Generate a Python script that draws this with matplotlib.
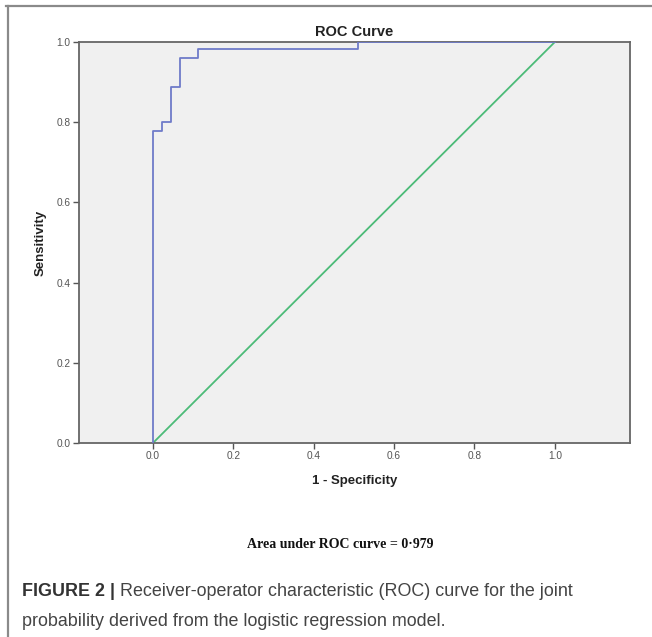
import matplotlib
matplotlib.use("Agg")
import matplotlib.pyplot as plt
from matplotlib.lines import Line2D

# Data
fpr = [0.0, 0.0, 0.022, 0.022, 0.044, 0.044, 0.067, 0.067, 0.111, 0.111, 0.511, 0.511, 1.0]
tpr = [0.0, 0.778, 0.778, 0.800, 0.800, 0.889, 0.889, 0.960, 0.960, 0.982, 0.982, 1.0, 1.0]
ref_x = [0.0, 1.0]
ref_y = [0.0, 1.0]
xticks = [0.0, 0.2, 0.4, 0.6, 0.8, 1.0]
yticks = [0.0, 0.2, 0.4, 0.6, 0.8, 1.0]

W, H = 652, 637
fig = plt.figure(figsize=(W / 100, H / 100), dpi=100)
fig.patch.set_facecolor("white")

ax = fig.add_axes([79 / W, 1 - 443 / H, 551 / W, 401 / H])
ax.set_facecolor("#f0f0f0")
ax.plot(fpr, tpr, color="#6f7bc9", lw=1.3, zorder=3)
ax.plot(ref_x, ref_y, color="#4cbb78", lw=1.3, zorder=2)
ax.set_xlim(-0.184, 1.187)
ax.set_ylim(0, 1.0)
ax.set_xticks(xticks)
ax.set_yticks(yticks)
ax.set_xticklabels([f"{v:.1f}" for v in xticks])
ax.set_yticklabels([f"{v:.1f}" for v in yticks])
for s in ax.spines.values():
    s.set_color("#666666")
    s.set_linewidth(1.3)
ax.tick_params(axis="both", direction="out", length=4, width=1, color="#555555",
               labelsize=7.3, labelcolor="#555555", pad=2)
for lab in ax.get_xticklabels() + ax.get_yticklabels():
    lab.set_family("Liberation Sans")

ax.set_title("ROC Curve", fontsize=10.5, fontweight="bold", family="Liberation Sans",
             color="#222222", pad=4)
ax.set_xlabel("1 - Specificity", fontsize=9.5, fontweight="bold", family="Liberation Sans",
              color="#222222", labelpad=10)
ax.set_ylabel("Sensitivity", fontsize=9.5, fontweight="bold", family="Liberation Sans",
              color="#222222", labelpad=7)

fig.text(340 / W, 1 - 545 / H, "Area under ROC curve = 0·979", ha="center", va="center",
         fontsize=10, fontweight="bold", family="Liberation Serif", color="#111111")

# Frame lines of the figure panel
fig.add_artist(Line2D([6 / W, 1.0], [1 - 6 / H, 1 - 6 / H], transform=fig.transFigure,
                      color="#8a8a8a", lw=1.6))
fig.add_artist(Line2D([8 / W, 8 / W], [0, 1 - 6 / H], transform=fig.transFigure,
                      color="#8a8a8a", lw=1.6))

# Caption
cap_fs = 12.9
t1 = fig.text(22 / W, 1 - 592 / H, "FIGURE 2 |", ha="left", va="center", fontsize=cap_fs,
              fontweight="bold", family="Liberation Sans", color="#333333")
fig.canvas.draw()
bb = t1.get_window_extent(renderer=fig.canvas.get_renderer())
x2 = (bb.x1 + 5) / W
fig.text(x2, 1 - 592 / H, "Receiver-operator characteristic (ROC) curve for the joint",
         ha="left", va="center", fontsize=cap_fs, family="Liberation Sans", color="#444444")
fig.text(22 / W, 1 - 621 / H, "probability derived from the logistic regression model.",
         ha="left", va="center", fontsize=cap_fs, family="Liberation Sans", color="#444444")

fig.savefig("out.png", dpi=100)
